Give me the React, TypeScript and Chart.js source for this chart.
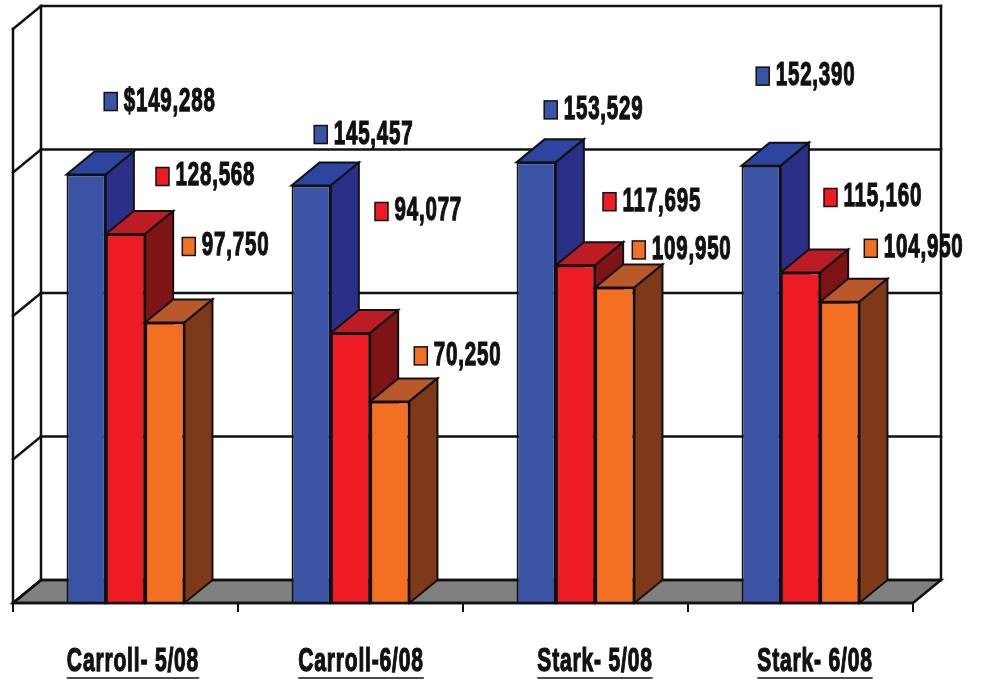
import React, { useEffect, useRef } from "react";
import { Chart, registerables } from "chart.js";

Chart.register(...registerables);

const categories = ["Carroll- 5/08", "Carroll-6/08", "Stark- 5/08", "Stark- 6/08"];
const blueValues = [149288, 145457, 153529, 152390];
const redValues = [128568, 94077, 117695, 115160];
const orangeValues = [97750, 70250, 109950, 104950];

const frontColors = ["#3A53A4", "#ED1C24", "#F36F21"];
const topColors = ["#2B45A0", "#BE1C24", "#B9582A"];
const sideColors = ["#2A3087", "#7F1416", "#7E3A18"];

const DEPTH_X = 28;
const DEPTH_Y = -23;
const FONT = '"Liberation Sans Narrow", "Liberation Sans", sans-serif';

// label placement relative to the bar top: [dx, dy] per dataset, per category
const labelOffsets = [
  [[18, -73], [3, -51], [8, -52.5], [-5, -89.5]],
  [[30.5, -57.5], [24.5, -121.5], [27.5, -63.5], [23.5, -75]],
  [[17.5, -76], [24.5, -45.5], [17.5, -37.5], [24.5, -53.5]],
];
const categoryLabelOffsets = [7.5, 10.5, 19.5, 14.5];

function poly(ctx: CanvasRenderingContext2D, pts: number[][], fill: string | null, lw = 2) {
  ctx.beginPath();
  pts.forEach((p, i) => (i ? ctx.lineTo(p[0], p[1]) : ctx.moveTo(p[0], p[1])));
  ctx.closePath();
  if (fill) {
    ctx.fillStyle = fill;
    ctx.fill();
  }
  ctx.lineWidth = lw;
  ctx.strokeStyle = "#111";
  ctx.stroke();
}

function line(ctx: CanvasRenderingContext2D, x1: number, y1: number, x2: number, y2: number, lw = 2.5) {
  ctx.beginPath();
  ctx.moveTo(x1, y1);
  ctx.lineTo(x2, y2);
  ctx.lineWidth = lw;
  ctx.strokeStyle = "#111";
  ctx.stroke();
}

function heavyText(
  ctx: CanvasRenderingContext2D,
  text: string,
  x: number,
  y: number,
  sx: number,
  sy: number,
  align: CanvasTextAlign
) {
  ctx.save();
  ctx.translate(x, y);
  ctx.scale(sx, sy);
  ctx.font = `bold 26px ${FONT}`;
  (ctx as any).letterSpacing = "1px";
  ctx.textAlign = align;
  ctx.textBaseline = "middle";
  ctx.fillStyle = "#111";
  ctx.strokeStyle = "#111";
  ctx.lineWidth = 1;
  ctx.fillText(text, 0, 0);
  ctx.strokeText(text, 0, 0);
  const w = ctx.measureText(text).width * sx;
  ctx.restore();
  return w;
}

const box3d = {
  id: "box3d",
  beforeDatasetDraw() {
    // bars are painted back to front in beforeDatasetsDraw
    return false;
  },
  beforeDatasetsDraw(chart: any) {
    const { ctx, chartArea: a, scales } = chart;
    const y = scales.y;
    ctx.save();
    ctx.lineCap = "square";
    // floor
    poly(
      ctx,
      [
        [a.left, a.bottom],
        [a.left + DEPTH_X, a.bottom + DEPTH_Y],
        [a.right + DEPTH_X, a.bottom + DEPTH_Y],
        [a.right, a.bottom],
      ],
      "#808080",
      2.5
    );
    // walls and gridlines
    y.ticks.forEach((t: any) => {
      const py = y.getPixelForValue(t.value);
      line(ctx, a.left, py, a.left + DEPTH_X, py + DEPTH_Y);
      line(ctx, a.left + DEPTH_X, py + DEPTH_Y, a.right + DEPTH_X, py + DEPTH_Y);
    });
    line(ctx, a.left, a.top, a.left, a.bottom);
    line(ctx, a.left + DEPTH_X, a.top + DEPTH_Y, a.left + DEPTH_X, a.bottom + DEPTH_Y);
    line(ctx, a.right + DEPTH_X, a.top + DEPTH_Y, a.right + DEPTH_X, a.bottom + DEPTH_Y);
    // category tick marks under the floor
    const n = categories.length;
    for (let i = 0; i <= n; i++) {
      const px = a.left + ((a.right - a.left) * i) / n;
      line(ctx, px, a.bottom, px, a.bottom + 8, 2);
    }
    ctx.restore();

    // bars: blue, then red, then orange, each with its depth faces
    chart.data.datasets.forEach((_: any, k: number) => {
      const meta = chart.getDatasetMeta(k);
      meta.controller.draw();
      ctx.save();
      ctx.lineJoin = "miter";
      meta.data.forEach((bar: any) => {
        const l = bar.x - bar.width / 2;
        const r = bar.x + bar.width / 2;
        const t = bar.y;
        const b = bar.base;
        poly(ctx, [[l, t], [r, t], [r + DEPTH_X, t + DEPTH_Y], [l + DEPTH_X, t + DEPTH_Y]], topColors[k]);
        poly(ctx, [[r, t], [r + DEPTH_X, t + DEPTH_Y], [r + DEPTH_X, b + DEPTH_Y], [r, b]], sideColors[k]);
      });
      ctx.restore();
    });
  },
  afterDatasetsDraw(chart: any) {
    const { ctx, chartArea: a, scales } = chart;
    ctx.save();
    line(ctx, a.left, a.bottom, a.right, a.bottom, 2.5);
    // value labels with small colour keys
    chart.data.datasets.forEach((ds: any, k: number) => {
      chart.getDatasetMeta(k).data.forEach((bar: any, i: number) => {
        const [dx, dy] = labelOffsets[k][i];
        const kx = bar.x + dx;
        const ky = bar.y + dy;
        ctx.fillStyle = frontColors[k];
        ctx.strokeStyle = "#111";
        ctx.lineWidth = 1.5;
        ctx.fillRect(kx, ky - 9, 13, 18);
        ctx.strokeRect(kx, ky - 9, 13, 18);
        const prefix = k === 0 && i === 0 ? "$" : "";
        heavyText(ctx, prefix + ds.data[i].toLocaleString("en-US"), kx + 19.5, ky, 0.79, 1.25, "left");
      });
    });
    // category labels with underlines
    categories.forEach((c, i) => {
      const cx = scales.x.getPixelForValue(i) + categoryLabelOffsets[i];
      const w = heavyText(ctx, c, cx, 662, 0.81, 1.25, "center");
      line(ctx, cx - w / 2, 678, cx + w / 2, 678, 1.5);
    });
    ctx.restore();
  },
};

export default function App() {
  const ref = useRef<HTMLCanvasElement>(null);
  useEffect(() => {
    const chart = new Chart(ref.current as HTMLCanvasElement, {
      type: "bar",
      data: {
        labels: categories,
        datasets: [blueValues, redValues, orangeValues].map((data, k) => ({
          label: ["Series 1", "Series 2", "Series 3"][k],
          data,
          backgroundColor: frontColors[k],
          borderColor: "#111",
          borderWidth: 2,
          barPercentage: 1,
          categoryPercentage: 0.524,
        })),
      },
      options: {
        responsive: false,
        animation: false,
        devicePixelRatio: 1,
        layout: { padding: { left: 13, right: 69, top: 29, bottom: 0 } },
        plugins: { legend: { display: false }, title: { display: false }, tooltip: { enabled: false } },
        scales: {
          x: {
            grid: { display: false },
            border: { display: false },
            ticks: { display: false },
            afterFit: (s: any) => {
              s.height = 76;
            },
          },
          y: { display: false, min: 0, max: 200000, ticks: { stepSize: 50000 } },
        },
      },
      plugins: [box3d],
    } as any);
    return () => chart.destroy();
  }, []);
  return (
    <div style={{ position: "absolute", left: 0, top: 0, width: 982, height: 679, background: "#fff" }}>
      <canvas ref={ref} width={982} height={679} style={{ display: "block" }} />
    </div>
  );
}
